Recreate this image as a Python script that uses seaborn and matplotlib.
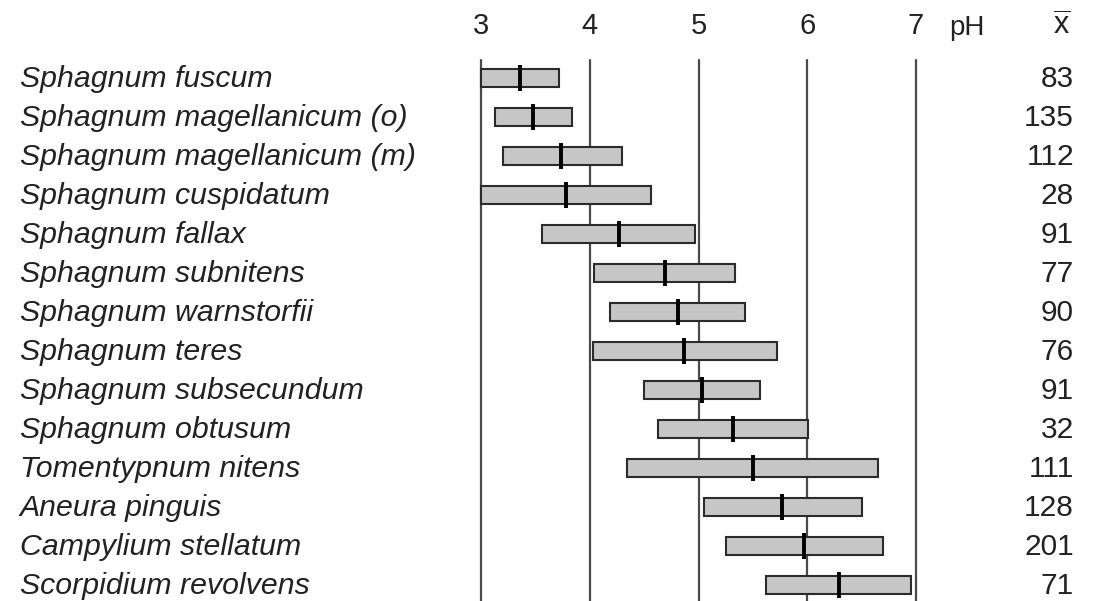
import matplotlib
matplotlib.use("Agg")
import matplotlib.pyplot as plt
import matplotlib.transforms as mtransforms
import seaborn as sns
import pandas as pd

species = [
    "Sphagnum fuscum", "Sphagnum magellanicum (o)", "Sphagnum magellanicum (m)",
    "Sphagnum cuspidatum", "Sphagnum fallax", "Sphagnum subnitens",
    "Sphagnum warnstorfii", "Sphagnum teres", "Sphagnum subsecundum",
    "Sphagnum obtusum", "Tomentypnum nitens", "Aneura pinguis",
    "Campylium stellatum", "Scorpidium revolvens",
]
ph_low = [3.00, 3.13, 3.20, 3.00, 3.56, 4.04, 4.19, 4.03, 4.50, 4.63, 4.34, 5.05, 5.25, 5.62]
ph_high = [3.72, 3.84, 4.30, 4.56, 4.97, 5.34, 5.43, 5.72, 5.57, 6.01, 6.65, 6.50, 6.70, 6.95]
ph_mid = [3.36, 3.48, 3.74, 3.78, 4.27, 4.69, 4.81, 4.87, 5.03, 5.32, 5.50, 5.77, 5.97, 6.29]
n_values = [83, 135, 112, 28, 91, 77, 90, 76, 91, 32, 111, 128, 201, 71]
ph_ticks = [3, 4, 5, 6, 7]

df = pd.DataFrame({"species": species, "low": ph_low, "high": ph_high,
                   "mid": ph_mid, "n": n_values})
df["pos"] = range(len(df))

sns.set_theme(style="white")
plt.rcParams["font.family"] = ["Liberation Sans", "DejaVu Sans"]
plt.rcParams["mathtext.fontset"] = "custom"
plt.rcParams["mathtext.rm"] = "Liberation Sans"

TXT = "#222222"
W, H = 1093, 601
fig = plt.figure(figsize=(W / 100, H / 100), dpi=100)
x3, x7 = 481, 916
top = 60
ax = fig.add_axes([x3 / W, 0, (x7 - x3) / W, (H - top) / H])

# vertical gridlines
for t in ph_ticks:
    ax.axvline(t, color="#4a4a4a", lw=1.6, zorder=1, clip_on=False)

# range bars
bars = ax.barh(df["pos"], df["high"] - df["low"], left=df["low"], height=0.44,
               color="#c6c6c6", edgecolor="#2b2b2b", linewidth=1.5, zorder=2)
for b in bars:
    b.set_clip_on(False)

# median markers
sns.scatterplot(data=df, x="mid", y="pos", marker="|", s=330, color="black",
                linewidth=2.8, ax=ax, zorder=3, legend=False)

ax.set_xlim(3, 7)
ax.set_ylim(13.41, -0.46)
for s in ax.spines.values():
    s.set_visible(False)
ax.set_xlabel("")
ax.set_ylabel("")
ax.set_yticks([])
ax.xaxis.tick_top()
ax.set_xticks(ph_ticks)
ax.set_xticklabels([str(t) for t in ph_ticks], fontsize=21, color=TXT)
ax.tick_params(axis="x", length=0, pad=14.5)
ax.grid(False)

off = 0.24
trans = mtransforms.blended_transform_factory(fig.transFigure, ax.transData)
for i, row in df.iterrows():
    ax.text(20 / W, row["pos"] + off, row["species"], transform=trans, ha="left",
            va="baseline", fontsize=21.8, style="italic", color=TXT, clip_on=False)
    ax.text(1074 / W, row["pos"] + off, str(row["n"]), transform=trans, ha="right",
            va="baseline", fontsize=21.5, color=TXT, clip_on=False)

fig.text(949 / W, 1 - 35 / H, "pH", ha="left", va="baseline", fontsize=20, color=TXT)
fig.text(1062 / W, 1 - 35 / H, r"$\overline{\mathrm{x}}$", ha="center", va="baseline",
         fontsize=22, color=TXT)

fig.savefig("out.png", dpi=100, facecolor="white")
